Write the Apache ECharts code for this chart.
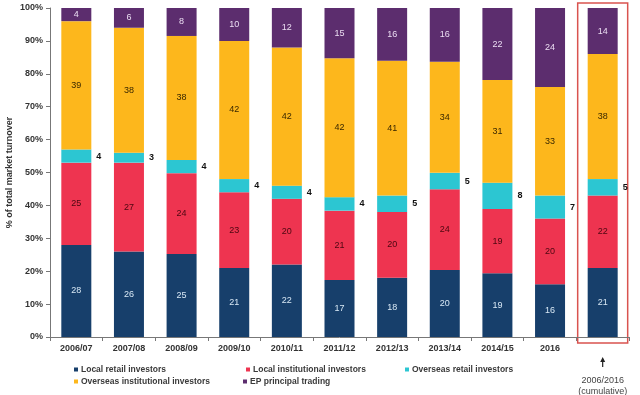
<!DOCTYPE html>
<html>
<head>
<meta charset="utf-8">
<script src="https://cdn.jsdelivr.net/npm/echarts@6/dist/echarts.min.js"></script>
<style>html,body{margin:0;padding:0;background:#fff}#c{width:640px;height:395px}</style>
</head>
<body>
<div id="c"></div>
<script>
const categories = ['2006/07','2007/08','2008/09','2009/10','2010/11','2011/12','2012/13','2013/14','2014/15','2016','2006/2016'];
const yTickLabels = ['0%','10%','20%','30%','40%','50%','60%','70%','80%','90%','100%'];
const seriesNames = ['Local retail investors','Local institutional investors','Overseas retail investors','Overseas institutional investors','EP principal trading'];

const localRetail    = [28, 26, 25.2, 21, 22, 17.3, 18, 20.4, 19.4, 16, 21];
const localInst      = [25, 27, 24.6, 23, 20, 21.1, 20, 24.5, 19.5, 20, 22];
const overseasRetail = [4, 3, 4, 4, 4, 4.1, 5, 5, 8, 7, 5];
const overseasInst   = [39, 38, 37.7, 42, 42, 42.2, 41, 33.8, 31.2, 33, 38];
const epTrading      = [4, 6, 8.5, 10, 12, 15.3, 16, 16.3, 21.9, 24, 14];

const localRetailLabels    = [28, 26, 25, 21, 22, 17, 18, 20, 19, 16, 21];
const localInstLabels      = [25, 27, 24, 23, 20, 21, 20, 24, 19, 20, 22];
const overseasRetailLabels = [4, 3, 4, 4, 4, 4, 5, 5, 8, 7, 5];
const overseasInstLabels   = [39, 38, 38, 42, 42, 42, 41, 34, 31, 33, 38];
const epTradingLabels      = [4, 6, 8, 10, 12, 15, 16, 16, 22, 24, 14];

const cumulativeText = '2006/2016\n(cumulative)';
const yAxisName = '% of total market turnover';

const colors = ['#173F6B', '#EE3450', '#2CC6D2', '#FDB71C', '#5C2D6E'];
const labelColors = ['#D8E8F5', '#4A0710', '#111', '#3A2800', '#EBDDF2'];
const FONT = 'Liberation Sans, Arial, sans-serif';

const values = [localRetail, localInst, overseasRetail, overseasInst, epTrading];
const labels = [localRetailLabels, localInstLabels, overseasRetailLabels, overseasInstLabels, epTradingLabels];

const chart = echarts.init(document.getElementById('c'), null, {renderer: 'canvas'});

const series = values.map((arr, si) => ({
  name: seriesNames[si],
  type: 'bar',
  stack: 'total',
  barWidth: 30,
  data: arr,
  itemStyle: {color: colors[si]},
  label: {
    show: true,
    position: si === 2 ? 'right' : 'inside',
    distance: 5,
    color: labelColors[si],
    fontFamily: FONT,
    fontSize: 9,
    fontWeight: si === 2 ? 'bold' : 'normal',
    formatter: p => String(labels[si][p.dataIndex])
  }
}));

const legendPos = [[69, 360], [241, 360], [400, 360], [69, 372], [238, 372]];
const legends = seriesNames.map((n, i) => ({
  data: [n],
  left: legendPos[i][0],
  top: legendPos[i][1],
  orient: 'horizontal',
  itemWidth: 4,
  itemHeight: 4,
  itemGap: 3,
  icon: 'rect',
  selectedMode: false,
  textStyle: {fontFamily: FONT, fontSize: 8.5, fontWeight: 'bold', color: '#3a3a3a', padding: [0, 0, 0, -2]}
}));

chart.setOption({
  animation: false,
  color: colors,
  textStyle: {fontFamily: FONT},
  grid: {left: 50, right: 11, top: 8, bottom: 58, containLabel: false, outerBoundsMode: 'none'},
  legend: legends,
  xAxis: {
    type: 'category',
    data: categories,
    axisLine: {show: true, lineStyle: {color: '#777', width: 1}},
    axisTick: {show: true, alignWithLabel: false, length: 4, lineStyle: {color: '#777'}},
    axisLabel: {
      fontFamily: FONT, fontSize: 9, fontWeight: 'bold', color: '#333', margin: 7,
      formatter: (v, i) => i === categories.length - 1 ? '' : v
    }
  },
  yAxis: {
    type: 'value',
    min: 0, max: 100, interval: 10,
    axisLine: {show: true, lineStyle: {color: '#777', width: 1}},
    axisTick: {show: true, length: 4, lineStyle: {color: '#777'}},
    splitLine: {show: false},
    axisLabel: {
      fontFamily: FONT, fontSize: 9, fontWeight: 'bold', color: '#333', margin: 7,
      formatter: v => yTickLabels[Math.round(v / 10)]
    }
  },
  series: series
});

// Annotation around the cumulative bar, positioned from axis scales
const last = categories.length - 1;
const pTop = chart.convertToPixel({gridIndex: 0}, [last, 100]);
const pBot = chart.convertToPixel({gridIndex: 0}, [last, 0]);
const pMid = chart.convertToPixel({gridIndex: 0}, [0, 50]);
const half = 25;
chart.setOption({
  graphic: [
    {
      type: 'text',
      x: 10, y: pMid[1],
      rotation: Math.PI / 2,
      style: {text: yAxisName, align: 'center', verticalAlign: 'middle', fontFamily: FONT, fontSize: 9, fontWeight: 'bold', fill: '#333'}
    },
    {
      type: 'rect',
      shape: {x: pTop[0] - half, y: pTop[1] - 5, width: half * 2, height: pBot[1] - pTop[1] + 11},
      style: {fill: 'none', stroke: '#D9534F', lineWidth: 1.5},
      silent: true
    },
    {
      type: 'line',
      shape: {x1: pBot[0], y1: pBot[1] + 30, x2: pBot[0], y2: pBot[1] + 22},
      style: {stroke: '#222', lineWidth: 1.2}
    },
    {
      type: 'polygon',
      shape: {points: [[pBot[0] - 2.5, pBot[1] + 25], [pBot[0] + 2.5, pBot[1] + 25], [pBot[0], pBot[1] + 20]]},
      style: {fill: '#222'}
    },
    {
      type: 'text',
      x: pBot[0], y: pBot[1] + 38,
      style: {text: cumulativeText, align: 'center', verticalAlign: 'top', fontFamily: FONT, fontSize: 9, lineHeight: 11, fill: '#444'}
    }
  ]
});
</script>
</body>
</html>
